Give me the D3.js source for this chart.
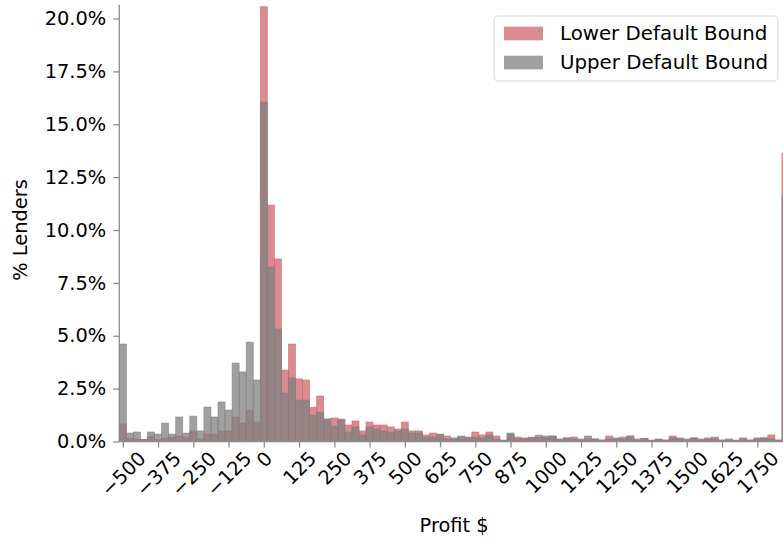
<!DOCTYPE html>
<html>
<head>
<meta charset="utf-8">
<script src="https://cdn.jsdelivr.net/npm/d3@7/dist/d3.min.js"></script>
<style>
  body { margin: 0; background: #fff; }
  svg { display: block; font-family: "DejaVu Sans", sans-serif; }
</style>
</head>
<body>
<svg id="chart" width="783" height="541"></svg>
<script>
// histogram bins: 25$ wide, first edge at -512.5
const binStart = -512.5;
const binWidth = 25;

// % of lenders per bin
const lowerBound = [
  0.83, 0.15, 0.12, 0.10, 0.23, 0.10, 0.16, 0.20, 0.26, 0.20,
  0.50, 0.12, 0.35, 0.35, 0.50, 0.50, 1.16, 0.87, 1.49, 0.92,
  20.56, 11.18, 8.63, 3.38, 4.61, 2.96, 2.91, 1.62, 2.15, 1.06,
  1.11, 1.06, 0.78, 0.97, 0.50, 0.92, 0.78, 0.78, 0.69, 0.59,
  0.92, 0.50, 0.50, 0.31, 0.40, 0.33, 0.26, 0.12, 0.20, 0.21,
  0.45, 0.31, 0.45, 0.26, 0.05, 0.35, 0.21, 0.17, 0.21, 0.20,
  0.17, 0.26, 0.10, 0.17, 0.21, 0.07, 0.12, 0.12, 0.07, 0.26,
  0.12, 0.21, 0.26, 0.12, 0.15, 0.05, 0.10, 0.07, 0.26, 0.17,
  0.07, 0.17, 0.07, 0.17, 0.21, 0.07, 0.07, 0.07, 0.12, 0.07,
  0.12, 0.17, 0.31, 0.07, 13.63
];
const upperBound = [
  4.61, 0.40, 0.45, 0.10, 0.45, 0.35, 0.87, 0.35, 1.16, 0.40,
  1.20, 0.50, 1.63, 1.16, 1.87, 1.49, 3.71, 3.29, 4.70, 2.91,
  16.05, 8.25, 5.32, 2.29, 3.00, 1.96, 1.96, 1.25, 1.39, 1.06,
  0.73, 1.02, 0.45, 0.69, 0.31, 0.69, 0.59, 0.50, 0.45, 0.50,
  0.59, 0.40, 0.40, 0.21, 0.21, 0.35, 0.12, 0.17, 0.26, 0.17,
  0.21, 0.17, 0.31, 0.12, 0.07, 0.40, 0.12, 0.12, 0.17, 0.30,
  0.26, 0.26, 0.12, 0.17, 0.12, 0.12, 0.26, 0.12, 0.07, 0.12,
  0.17, 0.12, 0.26, 0.07, 0.15, 0.07, 0.12, 0.07, 0.17, 0.12,
  0.12, 0.17, 0.12, 0.12, 0.12, 0.07, 0.12, 0.03, 0.17, 0.07,
  0.17, 0.17, 0.12, 0.07, 11.65
];

const xTicks = d3.range(-500, 1751, 125);
const yTicks = d3.range(0, 20.01, 2.5);

const seriesNames = ['Lower Default Bound', 'Upper Default Bound'];
const seriesColors = ['rgb(205,100,105)', 'rgb(128,128,128)'];
const alpha = 0.75;

const svg = d3.select('#chart');
const fs = 19.4;
const axisColor = '#8c8c8c';

const nBins = lowerBound.length;
const x = d3.scaleLinear()
  .domain([binStart, binStart + nBins * binWidth])
  .range([119.3, 789]);
const y = d3.scaleLinear()
  .domain([0, 20.64])
  .range([441.5, 5]);

// ——— bars ———
[lowerBound, upperBound].forEach((vals, si) => {
  svg.append('g')
    .selectAll('rect')
    .data(vals)
    .enter().append('rect')
    .attr('x', (d, i) => x(binStart + i * binWidth))
    .attr('width', (d, i) => x(binStart + (i + 1) * binWidth) - x(binStart + i * binWidth))
    .attr('y', d => y(d))
    .attr('height', d => y(0) - y(d))
    .attr('fill', seriesColors[si])
    .attr('fill-opacity', alpha)
    .attr('stroke', seriesColors[si])
    .attr('stroke-opacity', alpha)
    .attr('stroke-width', 0.7);
});

// ——— axes ———
const fmtX = d => (d < 0 ? '\u2212' + Math.abs(d) : '' + d);
const xAxis = svg.append('g').attr('transform', `translate(0,${y(0)})`)
  .call(d3.axisBottom(x).tickValues(xTicks).tickSize(6).tickFormat(fmtX));
const yAxis = svg.append('g').attr('transform', `translate(${x.range()[0]},0)`)
  .call(d3.axisLeft(y).tickValues(yTicks).tickSize(6).tickPadding(7)
    .tickFormat(d => d.toFixed(1) + '%'));

[xAxis, yAxis].forEach(g => {
  g.select('.domain').attr('stroke', axisColor).attr('stroke-width', 1.3);
  g.selectAll('.tick line').attr('stroke', axisColor).attr('stroke-width', 1.3);
  g.selectAll('.tick text').attr('fill', '#000').style('font-size', fs + 'px')
    .style('font-family', '"DejaVu Sans", sans-serif');
});
// y axis spine from plot top
yAxis.select('.domain').attr('d', `M0,${y.range()[1]}V${y.range()[0]}`);
xAxis.select('.domain').attr('d', `M${x.range()[0]},0H${x.range()[1]}`);

// rotated x labels, bbox centred under tick, top at fixed line
const labelTop = 447;
xAxis.selectAll('.tick text').each(function () {
  const t = d3.select(this);
  const w = this.getComputedTextLength();
  const h = fs * 1.17;
  const cy = labelTop - y(0) + (w + h) / (2 * Math.SQRT2);
  t.attr('y', null).attr('dy', '0.35em')
    .attr('text-anchor', 'middle')
    .attr('transform', `translate(0,${cy}) rotate(-45)`);
});

// ——— axis titles ———
svg.append('text')
  .attr('x', (x.range()[0] + x.range()[1]) / 2)
  .attr('y', 532)
  .attr('text-anchor', 'middle')
  .attr('fill', '#000')
  .style('font-size', fs + 'px')
  .text('Profit $');

svg.append('text')
  .attr('transform', `translate(27,230) rotate(-90)`)
  .attr('text-anchor', 'middle')
  .attr('fill', '#000')
  .style('font-size', fs + 'px')
  .text('% Lenders');

// ——— legend ———
const legend = svg.append('g');
legend.append('rect')
  .attr('x', 494).attr('y', 16).attr('width', 284).attr('height', 65)
  .attr('rx', 4)
  .attr('fill', '#fff').attr('fill-opacity', 0.8)
  .attr('stroke', '#d6d6d6');
seriesNames.forEach((name, i) => {
  const cy = 33.5 + i * 29;
  legend.append('rect')
    .attr('x', 504).attr('y', cy - 6.8).attr('width', 39).attr('height', 13.6)
    .attr('fill', seriesColors[i]).attr('fill-opacity', alpha);
  legend.append('text')
    .attr('x', 560).attr('y', cy).attr('dy', '0.35em')
    .attr('fill', '#000')
    .style('font-size', '19.8px')
    .text(name);
});
</script>
</body>
</html>
